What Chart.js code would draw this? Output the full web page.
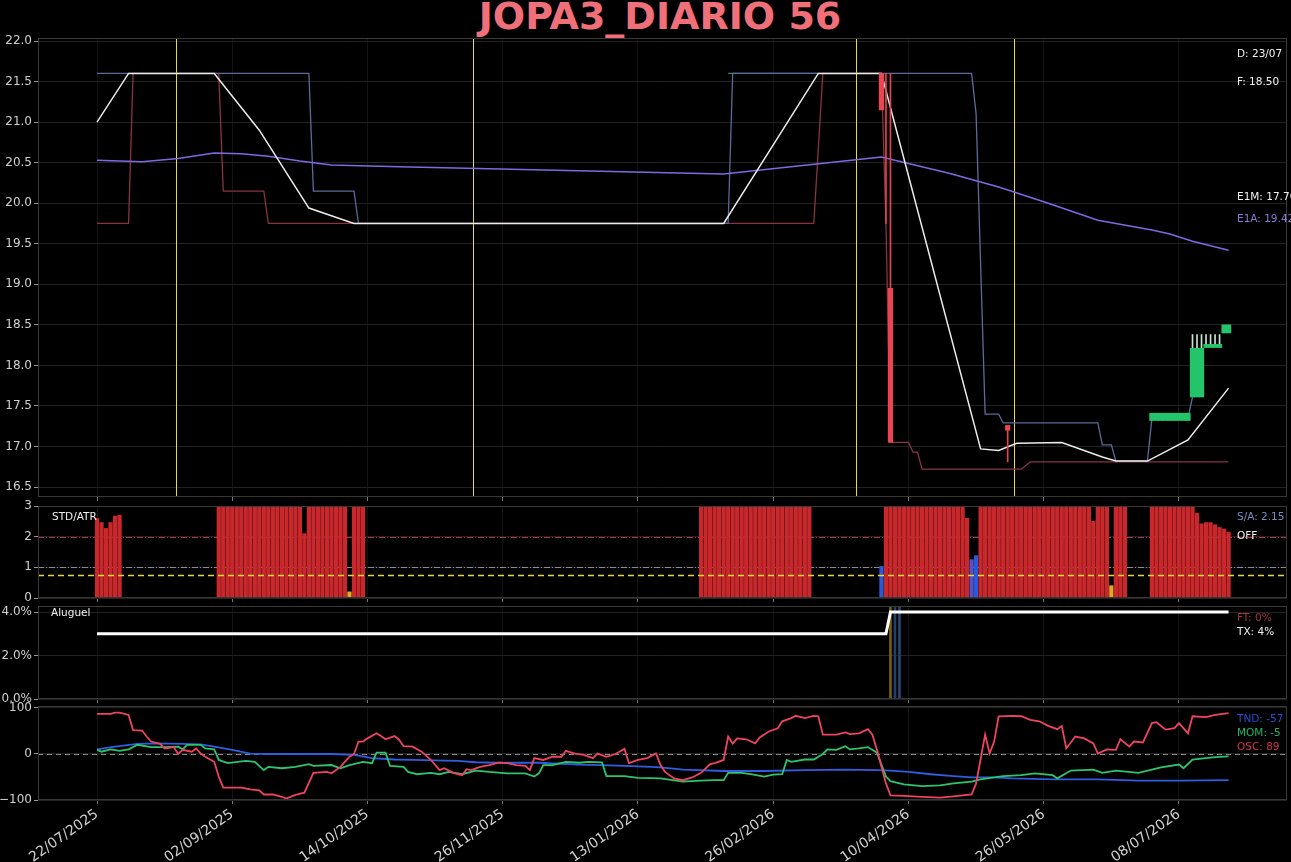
<!DOCTYPE html>
<html>
<head>
<meta charset="utf-8">
<script src="https://cdn.jsdelivr.net/npm/chart.js@4.4.1/dist/chart.umd.min.js"></script>
<style>
html, body { margin: 0; padding: 0; background: #000; }
#wrap { position: relative; width: 1291px; height: 862px; overflow: hidden; background: #000; font-family: "DejaVu Sans", sans-serif; }
canvas { position: absolute; left: 0; }
.lbl { position: absolute; font-size: 10.5px; line-height: 12px; white-space: nowrap; color: #f0f0f0; }
#title { position: absolute; left: 0; width: 1320px; top: -3px; text-align: center; font-size: 38px; line-height: 38px; font-weight: bold; color: #f0707a; }
</style>
</head>
<body>
<div id="wrap">
  <div id="title">JOPA3_DIARIO 56</div>
  <canvas id="cMain" width="1291" height="480" style="top:28px"></canvas>
  <canvas id="cStd" width="1291" height="112" style="top:496px"></canvas>
  <canvas id="cAlug" width="1291" height="113" style="top:596px"></canvas>
  <canvas id="cOsc" width="1291" height="166" style="top:696px"></canvas>

  <div class="lbl" style="left:1237px;top:47px">D: 23/07</div>
  <div class="lbl" style="left:1237px;top:75px">F: 18.50</div>
  <div class="lbl" style="left:1237px;top:190px">E1M: 17.70</div>
  <div class="lbl" style="left:1237px;top:212px;color:#8a7ad8">E1A: 19.42</div>
  <div class="lbl" style="left:52px;top:510px">STD/ATR</div>
  <div class="lbl" style="left:1237px;top:510px;color:#7a8ec0">S/A: 2.15</div>
  <div class="lbl" style="left:1237px;top:529px">OFF</div>
  <div class="lbl" style="left:51px;top:606px">Aluguel</div>
  <div class="lbl" style="left:1237px;top:611px;color:#a03848">FT: 0%</div>
  <div class="lbl" style="left:1237px;top:625px">TX: 4%</div>
  <div class="lbl" style="left:1237px;top:712px;color:#2a4ed0">TND: -57</div>
  <div class="lbl" style="left:1237px;top:726px;color:#22b868">MOM: -5</div>
  <div class="lbl" style="left:1237px;top:740px;color:#d03050">OSC: 89</div>
</div>
<script>
// eixo x: indice do pregao
const TICK_IDX = [0, 30, 60, 90, 120, 150, 180, 210, 240];
const TICK_LABELS = ['22/07/2025', '02/09/2025', '14/10/2025', '26/11/2025', '13/01/2026',
                     '26/02/2026', '10/04/2026', '26/05/2026', '08/07/2026'];

// painel principal
const MAIN_TICKS = [16.5, 17.0, 17.5, 18.0, 18.5, 19.0, 19.5, 20.0, 20.5, 21.0, 21.5, 22.0];
const UPPER_X = [0, 47, 48, 57, 58, 140, 141, 194, 195, 197, 200, 201, 222, 223, 225, 226, 233, 234, 242, 243];
const UPPER_Y = [21.6, 21.6, 20.15, 20.15, 19.75, 19.75, 21.6, 21.6, 21.1, 17.4, 17.4, 17.29, 17.29, 17.02, 17.02, 16.82, 16.82, 17.35, 17.35, 17.61];
const LOWER_X = [0, 7, 8, 27, 28, 37, 38, 159, 161, 174, 175, 176, 180, 181, 182, 183, 205, 207, 251];
const LOWER_Y = [19.75, 19.75, 21.6, 21.6, 20.15, 20.15, 19.75, 19.75, 21.6, 21.6, 19.75, 17.05, 17.05, 16.93, 16.93, 16.72, 16.72, 16.81, 16.81];
const TOPG_X = [140, 160];
const TOPG_Y = [21.6, 21.6];
const E1M_X = [0, 7, 26, 36, 47, 57, 139, 160, 174, 196, 200, 204, 214, 223, 226, 233, 242, 251];
const E1M_Y = [21.0, 21.6, 21.6, 20.9, 19.94, 19.75, 19.75, 21.6, 21.6, 16.97, 16.95, 17.04, 17.05, 16.87, 16.82, 16.82, 17.08, 17.72];
const E1A_X = [0, 10, 18, 26, 32, 38, 45, 52, 67, 139, 174, 189, 200, 211, 222, 234, 238, 243, 251];
const E1A_Y = [20.53, 20.51, 20.55, 20.62, 20.61, 20.58, 20.52, 20.47, 20.45, 20.36, 20.57, 20.37, 20.2, 20.0, 19.79, 19.67, 19.62, 19.53, 19.42];
const CANDLE_X     = [174, 176, 202, 234, 235, 236, 237, 238, 239, 240, 241, 242, 243, 244, 245, 246, 247, 248, 249, 250, 251];
const CANDLE_OPEN  = [21.6, 18.95, 17.26, 17.32, 17.32, 17.32, 17.32, 17.32, 17.32, 17.32, 17.32, 17.32, 17.61, 17.61, 17.61, 18.22, 18.22, 18.22, 18.22, 18.40, 18.40];
const CANDLE_CLOSE = [21.15, 17.05, 17.2, 17.41, 17.41, 17.41, 17.41, 17.41, 17.41, 17.41, 17.41, 17.41, 18.21, 18.21, 18.21, 18.26, 18.26, 18.26, 18.26, 18.50, 18.50];
const WICK_X  = [175, 176, 202, 243, 244, 245, 246, 247, 248, 249];
const WICK_LO = [19.75, 18.95, 16.81, 18.21, 18.21, 18.21, 18.26, 18.26, 18.26, 18.26];
const WICK_HI = [21.6, 21.6, 17.2, 18.38, 18.38, 18.38, 18.38, 18.38, 18.38, 18.38];
const SIGNAL_X = [17.5, 83.4, 168.4, 203.4];

// painel STD/ATR
const n = null;
const STD_VAL = [
  2.6, 2.46, 2.27, 2.46, 2.67, 2.7,
  n, n, n, n, n, n, n, n, n, n, n, n, n, n, n, n, n, n, n, n, n,
  3, 3, 3, 3, 3, 3, 3, 3, 3, 3, 3, 3, 3, 3, 3, 3, 3, 3, 3,
  2.1,
  3, 3, 3, 3, 3, 3, 3, 3, 3,
  0.2,
  3, 3, 3,
  n, n, n, n, n, n, n, n, n, n,
  n, n, n, n, n, n, n, n, n, n,
  n, n, n, n, n, n, n, n, n, n,
  n, n, n, n, n, n, n, n, n, n,
  n, n, n, n, n, n, n, n, n, n,
  n, n, n, n, n, n, n, n, n, n,
  n, n, n, n, n, n, n, n, n, n,
  n, n, n, n,
  3, 3, 3, 3, 3, 3, 3, 3, 3, 3,
  3, 3, 3, 3, 3, 3, 3, 3, 3, 3,
  3, 3, 3, 3, 3,
  n, n, n, n, n, n, n, n, n, n,
  n, n, n, n, n,
  1.03,
  3, 3, 3, 3, 3, 3, 3, 3, 3, 3,
  3, 3, 3, 3, 3, 3, 3, 3,
  2.6, 1.25, 1.38,
  3, 3, 3, 3, 3, 3, 3, 3, 3, 3,
  3, 3, 3, 3, 3, 3, 3, 3, 3, 3,
  3, 3, 3, 3, 3,
  2.5, 3, 3, 3, 0.4, 3, 3, 3,
  n, n, n, n, n,
  3, 3, 3, 3, 3, 3, 3, 3, 3, 3,
  2.77, 2.42, 2.46, 2.46, 2.39, 2.3, 2.25, 2.15
];
const STD_BLUE = [174, 194, 195];
const STD_YELLOW = [56, 225];
const STD_LEVELS = [2, 1, 0.75];

// painel aluguel
const TX_X = [0, 175, 176, 251];
const TX_Y = [3.0, 3.0, 4.0, 4.0];
const FT_X = [139, 251];
const FT_Y = [0, 0];
const ALUG_BAR_X = [176, 177, 178];
const ALUG_BAR_Y = [4.3, 4.3, 4.3];

// painel osciladores
const OSC_X = [0, 3, 4, 5, 7, 8, 10, 11, 12, 14, 15, 17, 18, 19, 21, 22, 23, 24, 26, 27, 28, 30, 32, 34, 36, 37, 39, 41, 42, 44,
  46, 48, 51, 52, 54, 56, 57, 58, 59, 60, 62, 63, 64, 66, 67, 68, 70, 72, 74, 76, 77, 79, 81, 82, 83, 85, 87, 89, 91, 93,
  95, 96, 97, 99, 101, 103, 104, 106, 108, 110, 111, 113, 115, 117, 118, 120, 122, 124, 125, 126, 128, 130, 132, 134, 136, 137, 139, 140, 141, 142,
  144, 146, 147, 149, 151, 152, 154, 155, 157, 159, 160, 161, 164, 166, 167, 169, 171, 172, 173, 175, 176, 179, 183, 187, 190, 194, 195, 197, 198, 199,
  200, 203, 205, 207, 209, 211, 213, 214, 215, 217, 219, 221, 222, 224, 226, 227, 229, 230, 232, 234, 235, 237, 239, 240, 242, 243, 246, 248, 251];
const OSC_Y = [87, 87, 90, 90, 85, 52, 51, 38, 27, 22, 12, 15, 0, 9, 5, 12, 1, -6, -17, -49, -73, -73, -73, -77, -79, -88, -88, -93, -97, -89,
  -84, -41, -39, -42, -28, -6, 0, 27, 27, 34, 45, 39, 32, 39, 31, 17, 16, 5, -12, -35, -31, -41, -46, -33, -35, -28, -24, -19, -20, -24,
  -26, -35, -9, -13, -6, -6, 7, 1, -2, -9, 1, -6, 0, 11, -20, -13, -9, 1, -24, -39, -53, -57, -51, -41, -22, -20, -13, 38, 23, 34,
  32, 23, 36, 49, 56, 71, 78, 83, 78, 83, 82, 42, 42, 47, 43, 45, 54, 42, 9, -64, -90, -91, -93, -95, -92, -88, -64, 42, 1, 27,
  82, 83, 82, 74, 71, 61, 54, 61, 12, 38, 34, 23, 1, 10, 9, 32, 16, 27, 25, 67, 69, 53, 56, 67, 45, 82, 80, 85, 89];
const MOM_X = [0, 1, 3, 5, 7, 9, 12, 15, 18, 19, 20, 23, 24, 26, 27, 29, 33, 35, 37, 38, 41, 44, 47, 48, 52, 54, 56, 59, 61, 62,
  64, 65, 68, 69, 71, 74, 76, 78, 81, 84, 87, 91, 95, 97, 98, 99, 101, 104, 107, 109, 112, 113, 117, 120, 125, 130, 134, 137, 139, 140,
  143, 145, 148, 150, 152, 153, 154, 157, 159, 161, 162, 164, 166, 167, 169, 171, 173, 175, 176, 179, 183, 187, 190, 194, 196, 199, 201, 205, 208, 212,
  213, 216, 221, 223, 226, 231, 234, 236, 240, 241, 243, 248, 251];
const MOM_Y = [9, 5, 10, 7, 10, 20, 15, 15, 16, 10, 20, 20, 12, 10, -13, -20, -15, -17, -35, -28, -31, -28, -22, -26, -24, -31, -24, -17, -20, 3,
  3, -26, -28, -39, -44, -41, -44, -39, -44, -36, -39, -42, -42, -49, -42, -24, -24, -17, -19, -17, -18, -48, -48, -52, -53, -60, -58, -57, -57, -41,
  -41, -44, -49, -45, -44, -13, -17, -12, -12, 0, 10, 9, 17, 10, 12, 15, 3, -49, -59, -66, -70, -68, -64, -60, -55, -51, -48, -46, -42, -46,
  -53, -36, -34, -41, -36, -41, -34, -29, -23, -31, -12, -7, -5];
const TND_X = [0, 4, 9, 13, 19, 23, 26, 30, 34, 38, 43, 52, 57, 61, 66, 70, 80, 84, 89, 98, 107, 112, 117, 123, 125, 130, 139, 148, 157, 166,
  173, 176, 180, 185, 190, 194, 199, 203, 212, 222, 231, 240, 251];
const TND_Y = [10, 16, 22, 23, 22, 21, 16, 9, 1, 0, 0, 0, -2, -9, -12, -13, -15, -18, -19, -19, -23, -24, -26, -28, -29, -34, -37, -37, -35, -34,
  -35, -36, -39, -44, -48, -51, -51, -53, -55, -55, -58, -58, -57];
const OSC_LEVELS = [0];

const FONT = 'DejaVu Sans';
const pts = (X, Y) => X.map((x, i) => ({ x: x, y: Y[i] }));

function xAxis(labels) {
  return {
    type: 'linear', min: -13.09, max: 263.96, offset: false,
    afterBuildTicks: s => { s.ticks = TICK_IDX.map(v => ({ value: v })); },
    afterFit: s => { s.height = labels ? 62 : 0; },
    grid: { color: '#131313', offset: false, drawTicks: true, tickLength: 4, tickColor: '#777' },
    border: { display: false },
    ticks: {
      display: labels, autoSkip: false, minRotation: 35, maxRotation: 35, padding: 2,
      color: '#d0d0d0', font: { family: FONT, size: 14 },
      callback: (v, i) => TICK_LABELS[i]
    }
  };
}

function yAxis(min, max, ticks, fmt) {
  return {
    type: 'linear', min: min, max: max,
    afterBuildTicks: s => { s.ticks = ticks.map(v => ({ value: v })); },
    afterFit: s => { s.width = 38; },
    grid: { color: '#222222', drawTicks: true, tickLength: 4, tickColor: '#999' },
    border: { display: false },
    ticks: { color: '#d0d0d0', font: { family: FONT, size: 12 }, padding: 2, callback: (v, i) => fmt(ticks[i]) }
  };
}

const framePlugin = {
  id: 'frame',
  afterDraw(chart) {
    const a = chart.chartArea, ctx = chart.ctx;
    ctx.save();
    ctx.strokeStyle = '#383838';
    ctx.lineWidth = 1;
    ctx.strokeRect(a.left + 0.5, a.top + 0.5, a.width - 1, a.height - 1);
    ctx.restore();
  }
};

// linhas horizontais de referencia
const levelsPlugin = {
  id: 'levels',
  beforeDatasetsDraw(chart, args, opts) { drawLevels(chart, opts.items || [], false); },
  afterDatasetsDraw(chart, args, opts) { drawLevels(chart, opts.items || [], true); }
};
function drawLevels(chart, items, front) {
  const a = chart.chartArea, ctx = chart.ctx, y = chart.scales.y;
  items.filter(it => !!it.front === front).forEach(it => {
    const py = Math.round(y.getPixelForValue(it.value)) + 0.5;
    ctx.save();
    ctx.strokeStyle = it.color;
    ctx.lineWidth = it.width || 1;
    ctx.setLineDash(it.dash || []);
    ctx.beginPath();
    ctx.moveTo(a.left, py);
    ctx.lineTo(a.right, py);
    ctx.stroke();
    ctx.restore();
  });
}

// linhas verticais de sinal (amarelas)
const signalPlugin = {
  id: 'signals',
  beforeDatasetsDraw(chart, args, opts) {
    if (!opts.xs) return;
    const a = chart.chartArea, ctx = chart.ctx, x = chart.scales.x;
    ctx.save();
    ctx.strokeStyle = '#e6da55';
    ctx.lineWidth = 1;
    opts.xs.forEach(v => {
      const px = Math.round(x.getPixelForValue(v)) + 0.5;
      ctx.beginPath();
      ctx.moveTo(px, a.top);
      ctx.lineTo(px, a.bottom);
      ctx.stroke();
    });
    ctx.restore();
  }
};

Chart.register(framePlugin, levelsPlugin, signalPlugin);

function baseOptions(pad, x, y, extra) {
  return {
    responsive: false,
    animation: false,
    devicePixelRatio: 1,
    layout: { padding: pad },
    plugins: Object.assign({ legend: { display: false }, tooltip: { enabled: false } }, extra || {}),
    elements: { point: { radius: 0 }, line: { tension: 0 } },
    scales: { x: x, y: y }
  };
}

function line(X, Y, color, width, order) {
  return { type: 'line', data: pts(X, Y), borderColor: color, borderWidth: width, pointRadius: 0, fill: false, order: order };
}

// grafico principal
new Chart(document.getElementById('cMain'), {
  type: 'line',
  data: {
    datasets: [
      {
        type: 'bar', order: 0, grouped: false, barThickness: 4.6, borderWidth: 0,
        data: CANDLE_X.map((x, i) => ({ x: x, y: [CANDLE_OPEN[i], CANDLE_CLOSE[i]] })),
        backgroundColor: CANDLE_X.map((x, i) => CANDLE_CLOSE[i] >= CANDLE_OPEN[i] ? '#24c56a' : '#ea4550')
      },
      {
        type: 'bar', order: 1, grouped: false, barThickness: 1, borderWidth: 0,
        data: WICK_X.map((x, i) => ({ x: x, y: [WICK_LO[i], WICK_HI[i]] })),
        backgroundColor: WICK_X.map(x => x < 230 ? '#e24452' : '#c4e6d0')
      },
      line(E1M_X, E1M_Y, '#ececec', 1.5, 2),
      line(E1A_X, E1A_Y, '#8068e4', 1.5, 3),
      line(UPPER_X, UPPER_Y, '#5b6b98', 1.3, 4),
      line(LOWER_X, LOWER_Y, '#8a3343', 1.3, 5),
      line(TOPG_X, TOPG_Y, '#2f8a5c', 1.2, 6)
    ]
  },
  options: baseOptions({ left: 0, right: 4, top: 10, bottom: 11 }, xAxis(false),
    yAxis(16.377, 22.037, MAIN_TICKS, v => v.toFixed(1)),
    { signals: { xs: SIGNAL_X } })
});

// STD/ATR
new Chart(document.getElementById('cStd'), {
  type: 'line',
  data: {
    datasets: [{
      type: 'bar', grouped: false, barThickness: 3.6, borderWidth: 0,
      data: STD_VAL.map((v, i) => ({ x: i, y: v })),
      backgroundColor: ctx => STD_BLUE.includes(ctx.dataIndex) ? (ctx.dataIndex === 194 ? '#5552c8' : '#2a5ad8')
        : STD_YELLOW.includes(ctx.dataIndex) ? '#e2aa22' : '#c8282c'
    }]
  },
  options: baseOptions({ left: 0, right: 4, top: 10, bottom: 10 }, xAxis(false),
    yAxis(0, 3, [0, 1, 2, 3], v => String(v)),
    { levels: { items: [
      { value: STD_LEVELS[0], color: '#b03548', dash: [6, 2, 1, 2] },
      { value: STD_LEVELS[1], color: '#8a8a8a', dash: [6, 2, 1, 2] },
      { value: STD_LEVELS[2], color: '#e8d834', dash: [6, 4], width: 1.5, front: true }
    ] } })
});

// Aluguel
new Chart(document.getElementById('cAlug'), {
  type: 'line',
  data: {
    datasets: [
      line(TX_X, TX_Y, '#ffffff', 3, 0),
      line(FT_X, FT_Y, '#8e2034', 1.5, 1),
      {
        type: 'bar', order: 2, grouped: false, barThickness: 2, borderWidth: 0,
        data: pts(ALUG_BAR_X, ALUG_BAR_Y),
        backgroundColor: ['#7a5e10', '#243e6e', '#2c4670']
      }
    ]
  },
  options: baseOptions({ left: 0, right: 4, top: 10, bottom: 10 }, xAxis(false),
    yAxis(0, 4.276, [0, 2, 4], v => v.toFixed(1) + '%'))
});

// osciladores
new Chart(document.getElementById('cOsc'), {
  type: 'line',
  data: {
    datasets: [
      line(OSC_X, OSC_Y, '#ee4460', 1.8, 0),
      line(MOM_X, MOM_Y, '#2ec46e', 1.8, 1),
      line(TND_X, TND_Y, '#2f5fe0', 1.8, 2)
    ]
  },
  options: baseOptions({ left: 0, right: 4, top: 10, bottom: 0 }, xAxis(true),
    yAxis(-100, 104.3, [-100, 0, 100], v => (v < 0 ? '\u2212' + Math.abs(v) : String(v))),
    { levels: { items: [{ value: OSC_LEVELS[0], color: '#8a8a8a', dash: [5, 4], width: 1.2 }] } })
});
</script>
</body>
</html>
